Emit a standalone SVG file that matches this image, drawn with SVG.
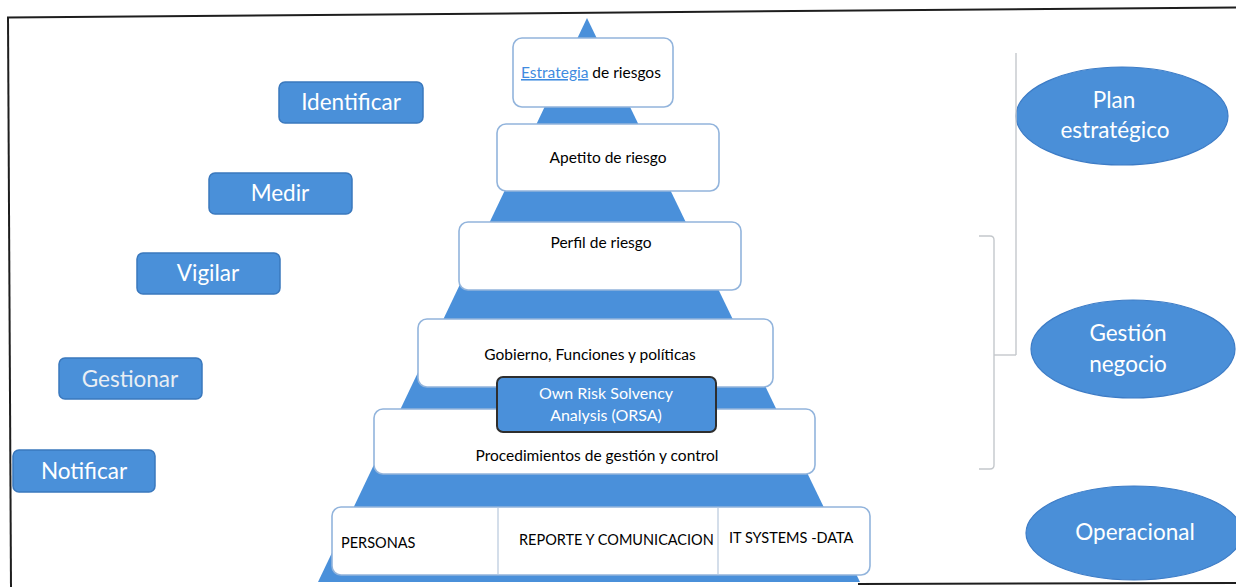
<svg xmlns="http://www.w3.org/2000/svg" width="1236" height="587" viewBox="0 0 1236 587">
<style>
.frame{stroke:#1e1e1e;stroke-width:2;fill:none}
.btn{fill:#4a90d9;stroke:#3a78bd;stroke-width:1.5}
.btxt{font-family:Lato,"Liberation Sans",sans-serif;font-size:22.5px;fill:#ffffff;text-anchor:middle}
.box{fill:#ffffff;stroke:#92b4dc;stroke-width:1.6}
.ktxt{font-family:Lato,"Liberation Sans",sans-serif;font-size:15.5px;fill:#000000}
.stxt{font-family:Lato,"Liberation Sans",sans-serif;font-size:14.5px;fill:#000000}
.otxt{font-family:Lato,"Liberation Sans",sans-serif;font-size:16px;fill:#ffffff;text-anchor:middle}
.ell{fill:#4a8fd8;stroke:#3d7cc6;stroke-width:1.2}
.etxt{font-family:Lato,"Liberation Sans",sans-serif;font-size:22.5px;fill:#ffffff;text-anchor:middle}
.brk{stroke:#c4c8cc;stroke-width:1.4;fill:none}
</style>
<rect x="0" y="0" width="1236" height="587" fill="#ffffff"/>
<g id="frame">
<line class="frame" x1="7" y1="17.5" x2="1236" y2="7.5"/>
<line class="frame" x1="8" y1="17" x2="11" y2="587"/>
<line class="frame" x1="858" y1="584" x2="1236" y2="583"/>
</g>
<g id="pyramid">
<polygon points="587,18 318,582 860,582" fill="#4a90da"/>
</g>
<g id="estrategia">
<rect class="box" x="513" y="38" width="160" height="69" rx="9"/>
<text class="ktxt" x="521" y="78"><tspan fill="#3f8be0" text-decoration="underline">Estrategia</tspan> de riesgos</text>
</g>
<g id="apetito">
<rect class="box" x="497" y="124" width="222" height="67" rx="9"/>
<text class="ktxt" x="608" y="163" text-anchor="middle">Apetito de riesgo</text>
</g>
<g id="perfil">
<rect class="box" x="459" y="222" width="282" height="68" rx="9"/>
<text class="ktxt" x="601" y="248" text-anchor="middle">Perfil de riesgo</text>
</g>
<g id="gobierno">
<rect class="box" x="418" y="319" width="355" height="68" rx="9"/>
<text class="ktxt" x="590" y="360" text-anchor="middle">Gobierno, Funciones y políticas</text>
</g>
<g id="procedimientos">
<rect class="box" x="374" y="409" width="441" height="65" rx="9"/>
<text class="ktxt" x="597" y="461" text-anchor="middle">Procedimientos de gestión y control</text>
</g>
<g id="orsa">
<rect x="497" y="377" width="219" height="55" rx="6" fill="#4a90da" stroke="#2e2e2e" stroke-width="2"/>
<text class="otxt" x="606" y="399">Own Risk Solvency</text>
<text class="otxt" x="606" y="421">Analysis (ORSA)</text>
</g>
<g id="base">
<rect class="box" x="332" y="507" width="538" height="68" rx="9"/>
<line x1="498" y1="508" x2="498" y2="574" stroke="#b8c8dc" stroke-width="1.2"/>
<line x1="718" y1="508" x2="718" y2="574" stroke="#b8c8dc" stroke-width="1.2"/>
<text class="stxt" x="341" y="548">PERSONAS</text>
<text class="stxt" x="519" y="545">REPORTE Y COMUNICACION</text>
<text class="stxt" x="729" y="543">IT SYSTEMS -DATA</text>
</g>
<g id="identificar">
<rect class="btn" x="279" y="82" width="144" height="41" rx="6"/>
<text class="btxt" x="351" y="110">Identificar</text>
</g>
<g id="medir">
<rect class="btn" x="209" y="173" width="143" height="41" rx="6"/>
<text class="btxt" x="280" y="201">Medir</text>
</g>
<g id="vigilar">
<rect class="btn" x="137" y="253" width="143" height="41" rx="6"/>
<text class="btxt" x="208" y="281">Vigilar</text>
</g>
<g id="gestionar">
<rect class="btn" x="59" y="358" width="143" height="41" rx="6"/>
<text class="btxt" x="130" y="387" style="fill:#e9eef4">Gestionar</text>
</g>
<g id="notificar">
<rect class="btn" x="13" y="450" width="142" height="42" rx="6"/>
<text class="btxt" x="84" y="479">Notificar</text>
</g>
<g id="plan">
<ellipse class="ell" cx="1122" cy="116" rx="106" ry="49"/>
<text class="etxt" x="1114" y="108">Plan</text>
<text class="etxt" x="1115" y="138">estratégico</text>
</g>
<g id="gestion">
<ellipse class="ell" cx="1133" cy="349" rx="102" ry="49"/>
<text class="etxt" x="1128" y="341">Gestión</text>
<text class="etxt" x="1128" y="372">negocio</text>
</g>
<g id="operacional">
<ellipse class="ell" cx="1134" cy="533" rx="108" ry="47"/>
<text class="etxt" x="1135" y="540">Operacional</text>
</g>
<g id="connectors">
<line class="brk" x1="1016" y1="53" x2="1016" y2="355"/>
<line class="brk" x1="994" y1="355" x2="1016" y2="355"/>
<path class="brk" d="M979,236 H990 Q994,236 994,240 V465 Q994,469 990,469 H979"/>
</g>
</svg>
